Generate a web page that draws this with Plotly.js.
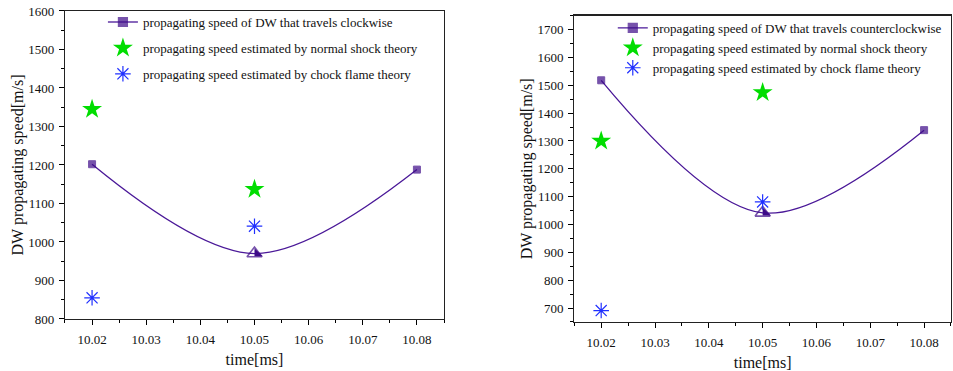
<!DOCTYPE html>
<html><head><meta charset="utf-8">
<script src="https://cdn.plot.ly/plotly-3.0.1.min.js"></script>
<style>html,body{margin:0;padding:0;background:#fff;} #chart{width:953px;height:371px;}</style>
</head><body><div id="chart"></div>
<script>
// ---- data ----
const times = [10.02, 10.05, 10.08];
const theoryTimes = [10.02, 10.05];
const cwSpeed = [1202, 970, 1188];
const cwShock = [1345, 1137];
const cwFlame = [855, 1041];
const ccwSpeed = [1518, 1042, 1339];
const ccwShock = [1300, 1474];
const ccwFlame = [691, 1081];
const midTime = [times[1]];
const cwMid = [cwSpeed[1]];
const ccwMid = [ccwSpeed[1]];

const nameCw = 'propagating speed of DW that travels clockwise';
const nameCcw = 'propagating speed of DW that travels counterclockwise';
const nameShock = 'propagating speed estimated by normal shock theory';
const nameFlame = 'propagating speed estimated by chock flame theory';
const xTitle = 'time[ms]';
const yTitle = 'DW propagating speed[m/s]';

// ---- styles ----
const FONT = 'Liberation Serif';
const PURPLE = '#3d0a88';
const GREEN = '#00dd00';
const BLUE = '#2030ff';

function speedTrace(y, name, xa, ya, leg) {
  return {x: times, y: y, name: name, xaxis: xa, yaxis: ya, legend: leg, legendgroup: 'a' + xa,
    type: 'scatter', mode: 'lines+markers',
    line: {shape: 'spline', color: '#4a1898', width: 1.3},
    marker: {symbol: ['square', 'triangle-up-open', 'square'], size: [7, 13, 7], color: PURPLE,
             line: {color: PURPLE, width: [1, 1.6, 1]}}};
}
function halfFill(y, xa, ya, leg) {
  return {x: midTime, y: y, xaxis: xa, yaxis: ya, legend: leg, legendgroup: 'a' + xa, showlegend: false,
    type: 'scatter', mode: 'markers', hoverinfo: 'skip',
    marker: {symbol: 'triangle-nw', size: 9, angle: -90, standoff: 2.7, color: PURPLE, line: {width: 0}}};
}
function shockTrace(y, xa, ya, leg) {
  return {x: theoryTimes, y: y, name: nameShock, xaxis: xa, yaxis: ya, legend: leg, legendgroup: 'b' + xa,
    type: 'scatter', mode: 'markers',
    marker: {symbol: 'star', size: 15, color: GREEN, line: {width: 0}}};
}
function flameTrace(y, xa, ya, leg) {
  return {x: theoryTimes, y: y, name: nameFlame, xaxis: xa, yaxis: ya, legend: leg, legendgroup: 'c' + xa,
    type: 'scatter', mode: 'markers',
    marker: {symbol: 'asterisk-open', size: 13, color: BLUE, line: {color: BLUE, width: 1.2}}};
}

const data = [
  speedTrace(cwSpeed, nameCw, 'x', 'y', 'legend'),
  halfFill(cwMid, 'x', 'y', 'legend'),
  shockTrace(cwShock, 'x', 'y', 'legend'),
  flameTrace(cwFlame, 'x', 'y', 'legend'),
  speedTrace(ccwSpeed, nameCcw, 'x2', 'y2', 'legend2'),
  halfFill(ccwMid, 'x2', 'y2', 'legend2'),
  shockTrace(ccwShock, 'x2', 'y2', 'legend2'),
  flameTrace(ccwFlame, 'x2', 'y2', 'legend2')
];

function xAxis(domain, anchor) {
  return {domain: domain, anchor: anchor, range: [10.015, 10.085], tick0: 10.02, dtick: 0.01, tickformat: '.2f',
    ticks: 'outside', ticklen: 5, tickwidth: 1, tickcolor: '#000', ticklabelstandoff: 3,
    minor: {dtick: 0.005, tick0: 10.015, ticks: 'outside', ticklen: 3, tickwidth: 1, tickcolor: '#000', showgrid: false},
    showline: true, linecolor: '#222', linewidth: 1.2, mirror: true, showgrid: false, zeroline: false,
    tickfont: {family: FONT, size: 13, color: '#111'},
    title: {text: xTitle, font: {family: FONT, size: 16, color: '#111'}, standoff: 8}};
}
function yAxis(domain, anchor, range) {
  return {domain: domain, anchor: anchor, range: range, tick0: 0, dtick: 100,
    ticks: 'outside', ticklen: 5, tickwidth: 1, tickcolor: '#000', ticklabelstandoff: 2,
    minor: {dtick: 50, tick0: 0, ticks: 'outside', ticklen: 3, tickwidth: 1, tickcolor: '#000', showgrid: false},
    showline: true, linecolor: '#222', linewidth: 1.2, mirror: true, showgrid: false, zeroline: false,
    tickfont: {family: FONT, size: 13, color: '#111'},
    title: {text: yTitle, font: {family: FONT, size: 16, color: '#111'}, standoff: 0}};
}

const layout = {
  width: 953, height: 371,
  margin: {l: 0, r: 0, t: 0, b: 0},
  paper_bgcolor: '#fff', plot_bgcolor: '#fff',
  showlegend: true,
  xaxis: xAxis([0.0682, 0.4659], 'y'),
  yaxis: yAxis([0.1402, 0.9704], 'x', [800, 1600]),
  xaxis2: xAxis([0.6026, 0.9979], 'y2'),
  yaxis2: yAxis([0.1321, 0.9577], 'x2', [650, 1750]),
  legend: {x: 0.108, y: 0.981, xanchor: 'left', yanchor: 'top', bgcolor: 'rgba(0,0,0,0)',
           font: {family: FONT, size: 13, color: '#111'}, tracegroupgap: 6, traceorder: 'grouped'},
  legend2: {x: 0.643, y: 0.965, xanchor: 'left', yanchor: 'top', bgcolor: 'rgba(0,0,0,0)',
           font: {family: FONT, size: 13, color: '#111'}, tracegroupgap: 0, traceorder: 'grouped'}
};

Plotly.newPlot('chart', data, layout, {displayModeBar: false, staticPlot: true});
</script>
</body></html>
